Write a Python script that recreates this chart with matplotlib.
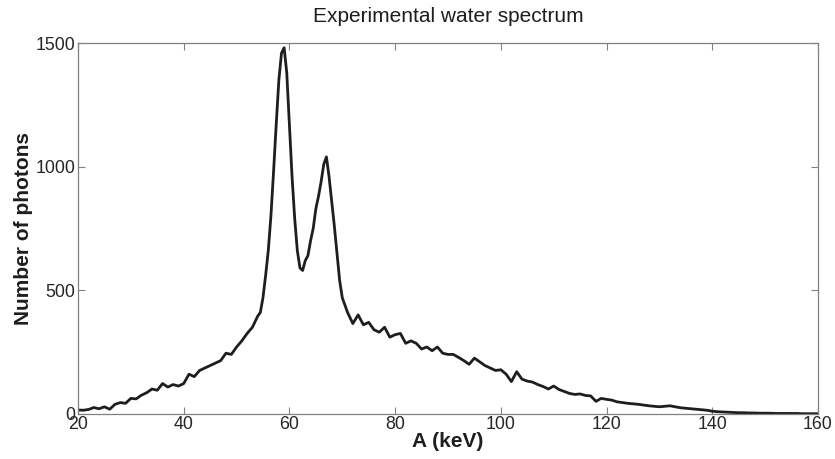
import numpy as np
import matplotlib.pyplot as plt

plt.rcParams['font.family'] = ['Liberation Sans', 'DejaVu Sans']

# energia (keV) e contagens
energy = [20, 21, 22, 23, 24, 25, 26, 27, 28, 29, 30, 31, 32, 33, 34, 35, 36, 37, 38, 39,
          40, 41, 42, 43, 44, 45, 46, 47, 48, 49, 50, 51, 52, 53, 54,
          54.5, 55, 55.5, 56, 56.5, 57, 57.5, 58, 58.5, 59, 59.5, 60, 60.5, 61, 61.5,
          62, 62.5, 63, 63.5, 64, 64.5, 65, 65.5, 66, 66.5, 67, 67.5, 68, 68.5, 69, 69.5,
          70, 70.5, 71, 72, 73, 74, 75, 76, 77, 78, 79, 80, 81, 82, 83, 84, 85, 86, 87,
          88, 89, 90, 91, 92, 93, 94, 95, 96, 97, 98, 99, 100, 101, 102, 103, 104, 105,
          106, 107, 108, 109, 110, 111, 112, 113, 114, 115, 116, 117, 118, 119, 120,
          121, 122, 123, 124, 125, 126, 127, 128, 129, 130, 131, 132, 133, 134, 135,
          136, 137, 138, 139, 140, 141, 142, 143, 144, 145, 146, 147, 148, 149, 150,
          151, 152, 153, 154, 155, 156, 157, 158, 159, 160]
photons = [15, 14, 17, 25, 20, 28, 18, 38, 45, 42, 62, 60, 75, 85, 100, 95, 122, 108, 118, 112,
           122, 160, 150, 175, 185, 195, 205, 215, 245, 240, 270, 295, 325, 350, 395,
           410, 470, 560, 660, 800, 980, 1170, 1350, 1460, 1482, 1380, 1170, 960, 790, 660,
           590, 580, 620, 640, 700, 750, 830, 880, 940, 1010, 1040, 960, 860, 760, 650, 540,
           470, 440, 410, 365, 400, 360, 370, 340, 330, 350, 310, 320, 325, 285, 295, 285, 262, 270, 255,
           270, 245, 240, 240, 228, 215, 200, 225, 210, 195, 185, 175, 178, 160, 130, 170, 140, 132,
           128, 118, 110, 100, 112, 98, 90, 82, 78, 80, 74, 72, 50, 62, 58,
           55, 48, 45, 42, 40, 38, 35, 32, 30, 28, 30, 32, 28, 24, 22,
           20, 18, 16, 14, 10, 8, 7, 6, 5, 4, 4, 3, 3, 2, 2,
           2, 1, 1, 1, 1, 1, 0, 0, 0, 0]

xticks = [20, 40, 60, 80, 100, 120, 140, 160]
yticks = [0, 500, 1000, 1500]

fig = plt.figure(figsize=(8.35, 4.59), dpi=100)
ax = fig.add_axes([0.0934, 0.0987, 0.8862, 0.807])

ax.plot(energy, photons, color='#1e1e1e', linewidth=2.0)

ax.set_xlim(20, 160)
ax.set_ylim(0, 1500)
ax.set_xticks(xticks)
ax.set_yticks(yticks)
ax.tick_params(direction='in', top=True, right=True, length=5, width=0.8,
               color='#808080', labelsize=12.8, labelcolor='#262626', pad=2)
for s in ax.spines.values():
    s.set_color('#808080')
    s.set_linewidth(0.9)

ax.set_title('Experimental water spectrum', fontsize=15, color='#1e1e1e', pad=15)
ax.set_xlabel('A (keV)', fontsize=15, fontweight='bold', color='#1e1e1e', labelpad=-1)
ax.set_ylabel('Number of photons', fontsize=15, fontweight='bold', color='#1e1e1e', labelpad=2)

fig.savefig('out.png', dpi=100)
